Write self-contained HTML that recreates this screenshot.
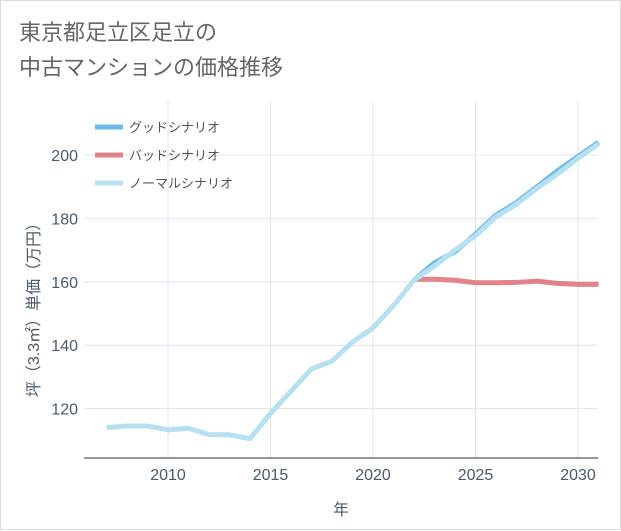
<!DOCTYPE html>
<html><head><meta charset="utf-8"><style>
body{margin:0;background:#fff;font-family:"Liberation Sans","Noto Sans CJK JP",sans-serif;}
#wrap{position:relative;width:619px;height:528px;border:1px solid #ddd;background:#fff;}
#title{position:absolute;left:18px;top:14px;font-size:22px;line-height:35px;color:#666;}
</style></head><body>
<div id="wrap">
<div id="title">東京都足立区足立の<br>中古マンションの価格推移</div>
<svg id="chart" width="621" height="530" style="position:absolute;left:0;top:0"></svg>
</div>
<script>
const years=[2007,2008,2009,2010,2011,2012,2013,2014,2015,2016,2017,2018,2019,2020,2021,2022,2023,2024,2025,2026,2027,2028,2029,2030,2031];
const normalVals=[114,114.5,114.5,113.3,113.8,111.8,111.7,110.5,118.5,125.5,132.5,135,141,145.5,152.5,160.5,165,170,174.5,180.5,184.5,189.5,194,199,203.5];
const goodYears=[2022,2023,2024,2025,2026,2027,2028,2029,2030,2031];
const goodVals=[160.5,166,169.5,175,181,185,190,195,199.5,204];
const badVals=[160.8,160.8,160.5,159.7,159.7,159.8,160.2,159.5,159.2,159.2];
const xTicks=[2010,2015,2020,2025,2030];
const yTicks=[120,140,160,180,200];
const legendLabels=["グッドシナリオ","バッドシナリオ","ノーマルシナリオ"];
const legendColors=["#6cb8ea","#e0848a","#b7e0f0"];
const L=83,R=597,T=100,B=457;
const xs=y=>167+(y-2010)*20.5;
const ys=v=>154+(200-v)*3.17;
const svg=document.getElementById('chart');
const NS='http://www.w3.org/2000/svg';
function mk(t,a,p){const e=document.createElementNS(NS,t);for(const k in a)e.setAttribute(k,a[k]);(p||svg).appendChild(e);return e;}
xTicks.forEach(t=>{const l=mk('line',{x1:xs(t),x2:xs(t),y1:T,y2:B,stroke:'#dfe6ec'});


const tx=mk('text',{x:xs(t),y:B+22,'text-anchor':'middle','font-size':16,fill:'#4a5a6a'});tx.textContent=t;

});
yTicks.forEach(t=>{const l=mk('line',{x1:L,x2:R,y1:ys(t),y2:ys(t),stroke:'#dfe6ec'});


const tx=mk('text',{x:L-6,y:ys(t)+6,'text-anchor':'end','font-size':16,fill:'#4a5a6a'});tx.textContent=t;

});
const ax=mk('line',{x1:L,x2:R,y1:B,y2:B,stroke:'#333'});


const xt=mk('text',{x:340,y:514,'text-anchor':'middle','font-size':16,fill:'#4a5a6a'});xt.textContent='年';


const yt=mk('text',{x:0,y:0,'text-anchor':'middle','font-size':16,fill:'#4a5a6a',transform:'translate(38,305) rotate(-90)'});yt.textContent='坪（3.3㎡）単価（万円）';


function line(xv,vals,color,name){const d=vals.map((v,i)=>(i?'L':'M')+xs(xv[i])+','+ys(v)).join(' ');
const p=mk('path',{d:d,fill:'none',stroke:color,'stroke-width':5,'stroke-linejoin':'round'});

}
line(goodYears,goodVals,legendColors[0],'good-scenario-line');
line(goodYears,badVals,legendColors[1],'bad-scenario-line');
line(years,normalVals,legendColors[2],'normal-scenario-line');
legendLabels.forEach((lb,i)=>{const y=126+i*28;
const l=mk('line',{x1:94,x2:122,y1:y,y2:y,stroke:legendColors[i],'stroke-width':5});


const t=mk('text',{x:128,y:y+5,'font-size':13,fill:'#555'});t.textContent=lb;

});
</script>
</body></html>
